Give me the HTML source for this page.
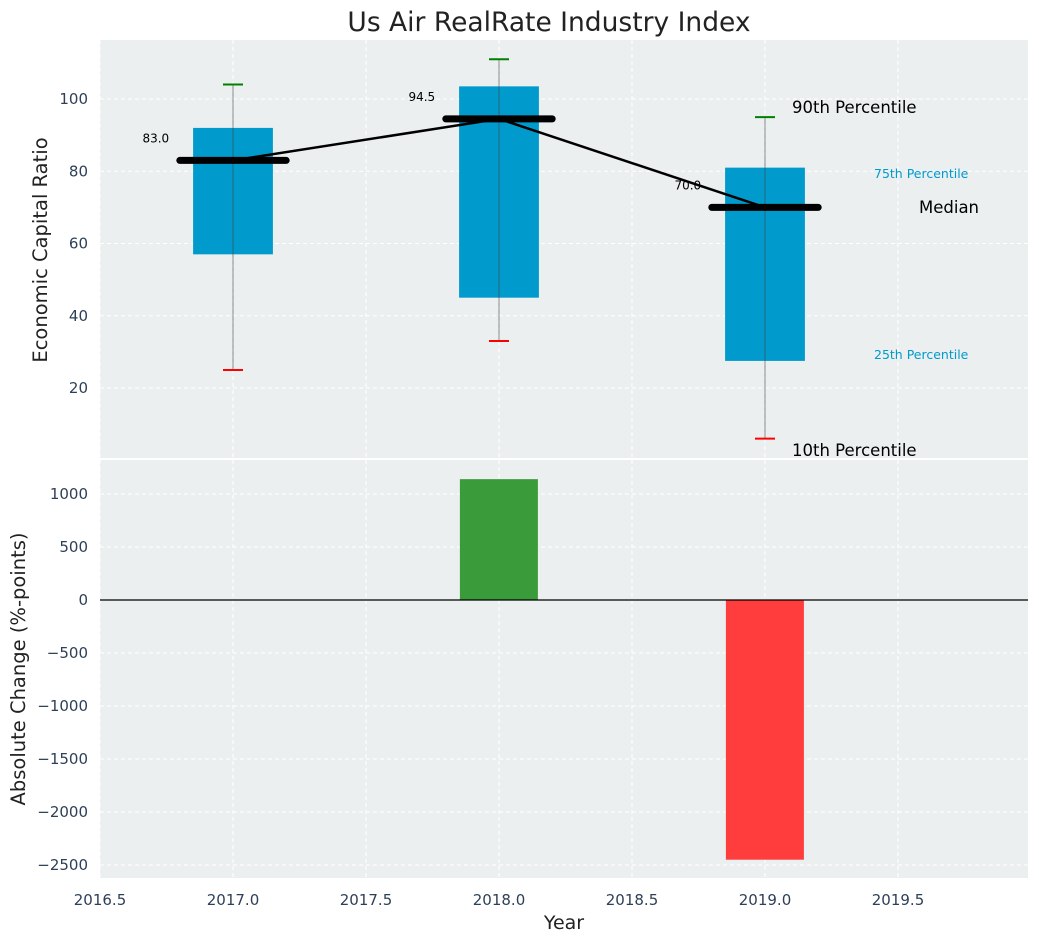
<!DOCTYPE html>
<html><head><meta charset="utf-8"><style>
body{margin:0;background:#fff;}
svg text{font-family:"DejaVu Sans","Liberation Sans",sans-serif;}
</style></head><body>
<svg id="c" width="1039" height="942" xmlns="http://www.w3.org/2000/svg"></svg>
<script>
const years=[2017,2018,2019];
const p10=[25,33,6];
const p25=[57,45,27.5];
const medians=[83,94.5,70];
const p75=[92,103.5,81];
const p90=[104,111,95];
const changes=[0,1140,-2450];
const topTicks=[20,40,60,80,100];
const botTicks=[1000,500,0,-500,-1000,-1500,-2000,-2500];
const xTicks=[2016.5,2017.0,2017.5,2018.0,2018.5,2019.0,2019.5];

const NS="http://www.w3.org/2000/svg";
const svg=document.getElementById('c');
function el(t,a,p){const e=document.createElementNS(NS,t);for(const k in a)e.setAttribute(k,a[k]);(p||svg).appendChild(e);return e;}
const L=100,R=1028;
const x=v=>L+(v-2016.5)*266;
const T0=40,T1=458,yt=v=>99+(100-v)*3.6125;
const B0=460,B1=878,yb=v=>600-v*0.106;
const tick="#2e4057";

let r=el('rect',{x:L,y:T0,width:R-L,height:T1-T0,fill:'#ebeff0'});

r=el('rect',{x:L,y:B0,width:R-L,height:B1-B0,fill:'#ebeff0'});


xTicks.forEach(v=>{
  [[T0,T1],[B0,B1]].forEach(([a,b])=>{
    const g=el('line',{x1:x(v),x2:x(v),y1:a,y2:b,stroke:'#fff','stroke-dasharray':'4,3','stroke-width':1});
    
  });
  const t=el('text',{x:x(v),y:905,'text-anchor':'middle','font-size':15,fill:tick});t.textContent=v.toFixed(1);
  
});
topTicks.forEach(v=>{
  const g=el('line',{x1:L,x2:R,y1:yt(v),y2:yt(v),stroke:'#fff','stroke-dasharray':'4,3'});
  
  const t=el('text',{x:88,y:yt(v)+5,'text-anchor':'end','font-size':15,fill:tick});t.textContent=v;
  
});
botTicks.forEach(v=>{
  const g=el('line',{x1:L,x2:R,y1:yb(v),y2:yb(v),stroke:'#fff','stroke-dasharray':'4,3'});
  
  const t=el('text',{x:88,y:yb(v)+5,'text-anchor':'end','font-size':15,fill:tick});t.textContent=String(v).replace('-','\u2212');
  
});

years.forEach((yr,i)=>{
  const b=el('rect',{x:x(yr-0.15),y:yt(p75[i]),width:0.3*266,height:yt(p25[i])-yt(p75[i]),fill:'#009acd'});
  
  const w=el('line',{x1:x(yr),x2:x(yr),y1:yt(p90[i]),y2:yt(p10[i]),stroke:'#444','stroke-opacity':0.6,'stroke-width':1});
  
  const c1=el('line',{x1:x(yr)-10,x2:x(yr)+10,y1:yt(p90[i]),y2:yt(p90[i]),stroke:'green','stroke-width':2});
  
  const c2=el('line',{x1:x(yr)-10,x2:x(yr)+10,y1:yt(p10[i]),y2:yt(p10[i]),stroke:'red','stroke-width':2});
  
});
const pl=el('polyline',{points:years.map((yr,i)=>x(yr)+','+yt(medians[i])).join(' '),fill:'none',stroke:'#000','stroke-width':2.5});

years.forEach((yr,i)=>{
  const m=el('line',{x1:x(yr-0.2),x2:x(yr+0.2),y1:yt(medians[i]),y2:yt(medians[i]),stroke:'#000','stroke-width':7,'stroke-linecap':'round'});
  
  const t=el('text',{x:x(yr-0.24),y:yt(medians[i])-18,'text-anchor':'end','font-size':12,fill:'#000'});t.textContent=medians[i].toFixed(1);
  
});
const ann=[[792,113,'90th Percentile',16.5,'#000'],[874,178,'75th Percentile',12.5,'#009acd'],[919,213,'Median',16.5,'#000'],[874,359,'25th Percentile',12.5,'#009acd'],[792,456,'10th Percentile',16.5,'#000']];
ann.forEach(a=>{const t=el('text',{x:a[0],y:a[1],'font-size':a[3],fill:a[4]});t.textContent=a[2];
  });

years.forEach((yr,i)=>{
  const v=changes[i];if(!v)return;
  const b=el('rect',{x:x(yr-0.147),y:Math.min(yb(v),yb(0)),width:78,height:Math.abs(yb(v)-yb(0)),fill:v>0?'#3a9b3a':'#ff3d3d'});
  
});
const z=el('line',{x1:L,x2:R,y1:yb(0),y2:yb(0),stroke:'#000','stroke-width':1.2});


let t=el('text',{x:549,y:31,'text-anchor':'middle','font-size':26.5,fill:'#222'});t.textContent='Us Air RealRate Industry Index';

t=el('text',{x:564,y:929,'text-anchor':'middle','font-size':19,fill:'#222'});t.textContent='Year';

t=el('text',{x:0,y:0,'text-anchor':'middle','font-size':19.5,fill:'#222',transform:'translate(47,250) rotate(-90)'});t.textContent='Economic Capital Ratio';

t=el('text',{x:0,y:0,'text-anchor':'middle','font-size':19.5,fill:'#222',transform:'translate(25,669) rotate(-90)'});t.textContent='Absolute Change (%-points)';

</script>
</body></html>
